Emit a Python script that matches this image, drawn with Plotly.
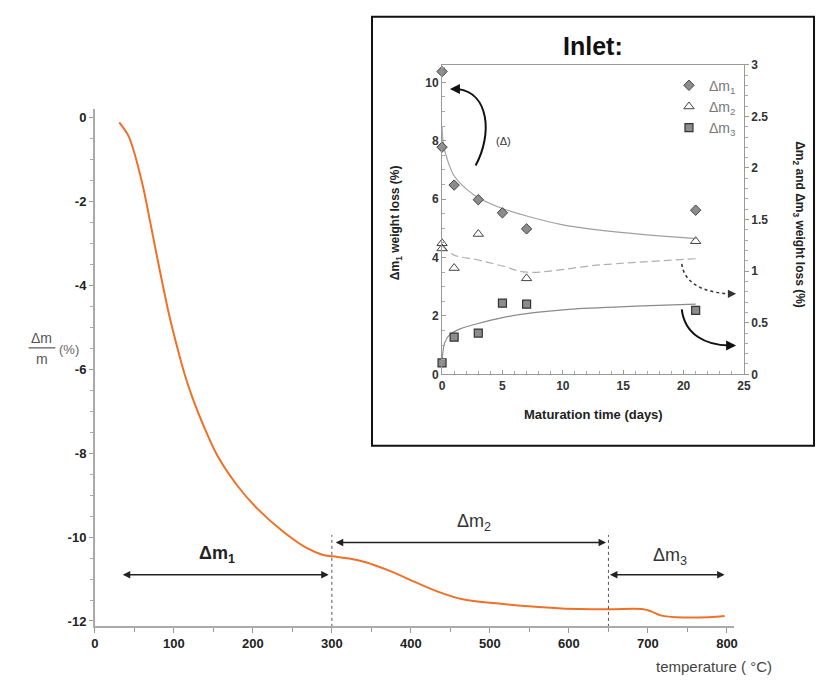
import plotly.graph_objects as go

W, H = 822, 682

# ---------------- main TGA curve ----------------
temp_C = [31, 42, 48, 61, 71, 82, 94, 106, 114, 123, 135, 156, 181, 206, 239, 268,
          288, 301, 322, 343, 371, 405, 434, 467, 508, 549, 591, 649, 694, 704, 715,
          736, 777, 797]
mass_loss = [-0.12, -0.42, -0.72, -1.65, -2.58, -3.62, -4.7, -5.6, -6.14, -6.65, -7.23,
             -8.09, -8.79, -9.33, -9.88, -10.26, -10.42, -10.46, -10.51, -10.6, -10.79,
             -11.07, -11.3, -11.49, -11.58, -11.65, -11.7, -11.72, -11.72, -11.77,
             -11.86, -11.91, -11.91, -11.88]
main_x_ticks = [0, 100, 200, 300, 400, 500, 600, 700, 800]
main_y_ticks = [0, -2, -4, -6, -8, -10, -12]
main_y_ticktext = ["0", "-2", "-4", "-6", "-8", "-10", "-12"]

# step boundaries (°C)
step_bounds = [300, 650]

# ---------------- inset data ----------------
dm1_days = [0, 0, 1, 3, 5, 7, 21]
dm1_vals = [10.37, 7.78, 6.48, 5.98, 5.53, 4.98, 5.62]
dm2_days = [0, 0, 1, 3, 7, 21]
dm2_vals = [1.27, 1.22, 1.03, 1.36, 0.93, 1.29]
dm3_days = [0, 1, 3, 5, 7, 21]
dm3_vals = [0.11, 0.36, 0.40, 0.69, 0.68, 0.62]

fit1_days = [0, 0.1, 0.4, 1, 2, 3, 5, 7, 10, 15, 21]
fit1_vals = [8.5, 7.9, 7.4, 6.8, 6.35, 6.05, 5.68, 5.42, 5.12, 4.85, 4.65]
fit2_days = [0, 0.9, 2.9, 5, 7, 13.1, 21]
fit2_vals = [1.25, 1.16, 1.11, 1.05, 0.99, 1.06, 1.12]
fit3_days = [0, 0.2, 0.6, 1.5, 2.9, 5, 7.8, 10.5, 16, 21]
fit3_vals = [0.11, 0.30, 0.38, 0.44, 0.49, 0.55, 0.60, 0.63, 0.66, 0.68]


def px(x):
    return x / W


def py(y):
    return 1 - y / H


ORANGE = "rgb(240,112,40)"
FONT = "Liberation Sans, Arial, sans-serif"

fig = go.Figure()

fig.add_trace(go.Scatter(x=temp_C, y=mass_loss, mode="lines",
                         line=dict(color=ORANGE, width=2, shape="spline", smoothing=1.0),
                         xaxis="x", yaxis="y", showlegend=False, hoverinfo="skip"))

# inset fits
fig.add_trace(go.Scatter(x=fit1_days, y=fit1_vals, mode="lines", line=dict(color="#a0a0a0", width=1.2, shape="spline"),
                         xaxis="x2", yaxis="y2", showlegend=False, cliponaxis=False))
fig.add_trace(go.Scatter(x=fit2_days, y=fit2_vals, mode="lines", line=dict(color="#b0b0b0", width=1.2, dash="8px,4px", shape="spline"),
                         xaxis="x2", yaxis="y3", showlegend=False, cliponaxis=False))
fig.add_trace(go.Scatter(x=fit3_days, y=fit3_vals, mode="lines", line=dict(color="#8a8a8a", width=1.2, shape="spline"),
                         xaxis="x2", yaxis="y3", showlegend=False, cliponaxis=False))

# inset markers
fig.add_trace(go.Scatter(x=dm1_days, y=dm1_vals, mode="markers", name="Δm<sub>1</sub>",
                         marker=dict(symbol="diamond", size=8, color="#8c8c8c", line=dict(color="#444", width=1)),
                         xaxis="x2", yaxis="y2", cliponaxis=False))
fig.add_trace(go.Scatter(x=dm2_days, y=dm2_vals, mode="markers", name="Δm<sub>2</sub>",
                         marker=dict(symbol="triangle-up-open", size=9, color="#444", line=dict(width=1)),
                         xaxis="x2", yaxis="y3", cliponaxis=False))
fig.add_trace(go.Scatter(x=dm3_days, y=dm3_vals, mode="markers", name="Δm<sub>3</sub>",
                         marker=dict(symbol="square", size=8, color="#8c8c8c", line=dict(color="#333", width=1.2)),
                         xaxis="x2", yaxis="y3", cliponaxis=False))

shapes = []
# inset frame
shapes.append(dict(type="rect", xref="paper", yref="paper", x0=px(373), x1=px(821), y0=py(448), y1=py(10),
                   line=dict(color="#111", width=2), fillcolor="white", layer="below"))
# dotted boundaries
for b in step_bounds:
    shapes.append(dict(type="line", xref="x", yref="y", x0=b, x1=b, y0=-12.14, y1=-9.95,
                       line=dict(color="#555", width=1, dash="dot")))
# curved arrows in inset
shapes.append(dict(type="path", xref="x2", yref="y2", path="M 2.78,7.15 C 4.17,8.22 3.92,9.63 1.31,9.77",
                   line=dict(color="#111", width=2)))
shapes.append(dict(type="path", xref="x2", yref="y3", path="M 19.85,1.07 C 20.1,0.85 22.14,0.79 23.77,0.78",
                   line=dict(color="#333", width=1.5, dash="dot")))
shapes.append(dict(type="path", xref="x2", yref="y3", path="M 19.85,0.63 C 20.1,0.38 21.9,0.28 23.77,0.28",
                   line=dict(color="#111", width=2)))
# fraction bar for y title
shapes.append(dict(type="line", xref="paper", yref="paper", x0=px(25), x1=px(52), y0=py(348), y1=py(348),
                   line=dict(color="#555", width=1.2)))


def pann(x, y, text, size, color, **kw):
    d = dict(x=px(x), y=py(y), xref="paper", yref="paper", text=text, showarrow=False,
             xanchor="center", yanchor="middle", font=dict(size=size, color=color, family=FONT))
    d.update(kw)
    return d


annotations = []
# double arrows
for (x0, x1, yv) in [(33.5, 296, -10.9), (303, 647, -10.13), (650, 797, -10.9)]:
    annotations.append(dict(x=x1, y=yv, ax=x0, ay=yv, xref="x", yref="y", axref="x", ayref="y", text="",
                            showarrow=True, arrowhead=2, arrowside="end+start", arrowsize=1, arrowwidth=1.5,
                            arrowcolor="#222"))
annotations.append(dict(x=155, y=-10.42, xref="x", yref="y", text="<b>Δm<sub>1</sub></b>", showarrow=False,
                        font=dict(size=18, color="#222", family=FONT)))
annotations.append(dict(x=480, y=-9.65, xref="x", yref="y", text="Δm<sub>2</sub>", showarrow=False,
                        font=dict(size=18, color="#333", family=FONT)))
annotations.append(dict(x=728, y=-10.47, xref="x", yref="y", text="Δm<sub>3</sub>", showarrow=False,
                        font=dict(size=18, color="#333", family=FONT)))
# arrowheads in inset
annotations.append(dict(x=0.65, y=9.77, ax=1.31, ay=9.77, xref="x2", yref="y2", axref="x2", ayref="y2", text="",
                        showarrow=True, arrowhead=2, arrowsize=1, arrowwidth=2, arrowcolor="#111"))
annotations.append(dict(x=24.35, y=0.78, ax=23.77, ay=0.78, xref="x2", yref="y3", axref="x2", ayref="y3", text="",
                        showarrow=True, arrowhead=2, arrowsize=1.1, arrowwidth=1.5, arrowcolor="#333"))
annotations.append(dict(x=24.35, y=0.28, ax=23.77, ay=0.28, xref="x2", yref="y3", axref="x2", ayref="y3", text="",
                        showarrow=True, arrowhead=2, arrowsize=1, arrowwidth=2, arrowcolor="#111"))
annotations.append(dict(x=5.1, y=8.0, xref="x2", yref="y2", text="(Δ)", showarrow=False,
                        font=dict(size=11, color="#333", family=FONT)))
# inset title and axis titles
annotations.append(pann(597, 40, "<b>Inlet:</b>", 25, "#111"))
annotations.append(pann(398, 220, "<b>Δm<sub>1</sub> weight loss (%)</b>", 12, "#222", textangle=-90))
annotations.append(pann(805, 222, "<b>Δm<sub>2</sub> and Δm<sub>3</sub> weight loss (%)</b>", 12, "#222", textangle=90))
annotations.append(pann(597, 416, "<b>Maturation time (days)</b>", 13, "#222"))
# main axis titles
annotations.append(pann(38.5, 338, "Δm", 14, "#555"))
annotations.append(pann(38.5, 359, "m", 14, "#555"))
annotations.append(pann(66, 350, "(%)", 13, "#666"))
annotations.append(pann(780, 673, "temperature ( °C)", 15, "#444", xanchor="right"))

tickfont_main = dict(size=13, color="#222", family=FONT, weight="bold")
tickfont_in = dict(size=12, color="#333", family=FONT, weight="bold")

fig.update_layout(
    width=W, height=H, margin=dict(l=0, r=0, t=0, b=0),
    paper_bgcolor="white", plot_bgcolor="rgba(0,0,0,0)",
    font=dict(family=FONT),
    xaxis=dict(domain=[px(92), px(740)], range=[0, 809], anchor="y", tickvals=main_x_ticks,
               ticks="outside", ticklen=5, tickcolor="#999", showline=True, linecolor="#aaa", linewidth=1.5,
               showgrid=False, zeroline=False, tickfont=tickfont_main,
               minor=dict(dtick=50, ticks="outside", ticklen=4, tickcolor="#999")),
    yaxis=dict(domain=[py(632), py(104)], range=[-12.12, 0.2], anchor="x", tickvals=main_y_ticks,
               ticktext=main_y_ticktext, ticks="outside", ticklen=4, tickcolor="#999", showline=True,
               linecolor="#aaa", linewidth=1.5, showgrid=False, zeroline=False, tickfont=tickfont_main,
               minor=dict(dtick=0.5, ticks="outside", ticklen=3, tickcolor="#aaa")),
    xaxis2=dict(domain=[px(444), px(750)], range=[0, 25], anchor="y2", tickvals=[0, 5, 10, 15, 20, 25],
                ticks="inside", ticklen=4, tickcolor="#999", showline=True, mirror=True, linecolor="#999",
                linewidth=1, showgrid=False, zeroline=False, tickfont=tickfont_in,
                minor=dict(dtick=1, ticks="inside", ticklen=3, tickcolor="#aaa")),
    yaxis2=dict(domain=[py(375), py(59)], range=[0, 10.6], anchor="x2", tickvals=[0, 2, 4, 6, 8, 10],
                ticks="inside", ticklen=4, tickcolor="#999", showline=True, linecolor="#999", linewidth=1,
                showgrid=False, zeroline=False, tickfont=tickfont_in,
                minor=dict(dtick=0.5, ticks="inside", ticklen=3, tickcolor="#aaa")),
    yaxis3=dict(domain=[py(375), py(59)], range=[0, 3], anchor="x2", overlaying="y2", side="right",
                tickvals=[0, 0.5, 1, 1.5, 2, 2.5, 3], ticks="outside", ticklen=4, tickcolor="#999",
                showline=True, linecolor="#999", linewidth=1, showgrid=False, zeroline=False,
                tickfont=tickfont_in, minor=dict(dtick=0.1, ticks="outside", ticklen=3, tickcolor="#aaa")),
    legend=dict(x=px(674), y=py(64), xanchor="left", yanchor="top", bgcolor="rgba(0,0,0,0)",
                font=dict(size=14, color="#777", family=FONT), itemwidth=30, tracegroupgap=0),
    shapes=shapes, annotations=annotations,
)

fig.write_html("out.html", post_script="document.body.style.margin='0';document.body.style.overflow='hidden';")
